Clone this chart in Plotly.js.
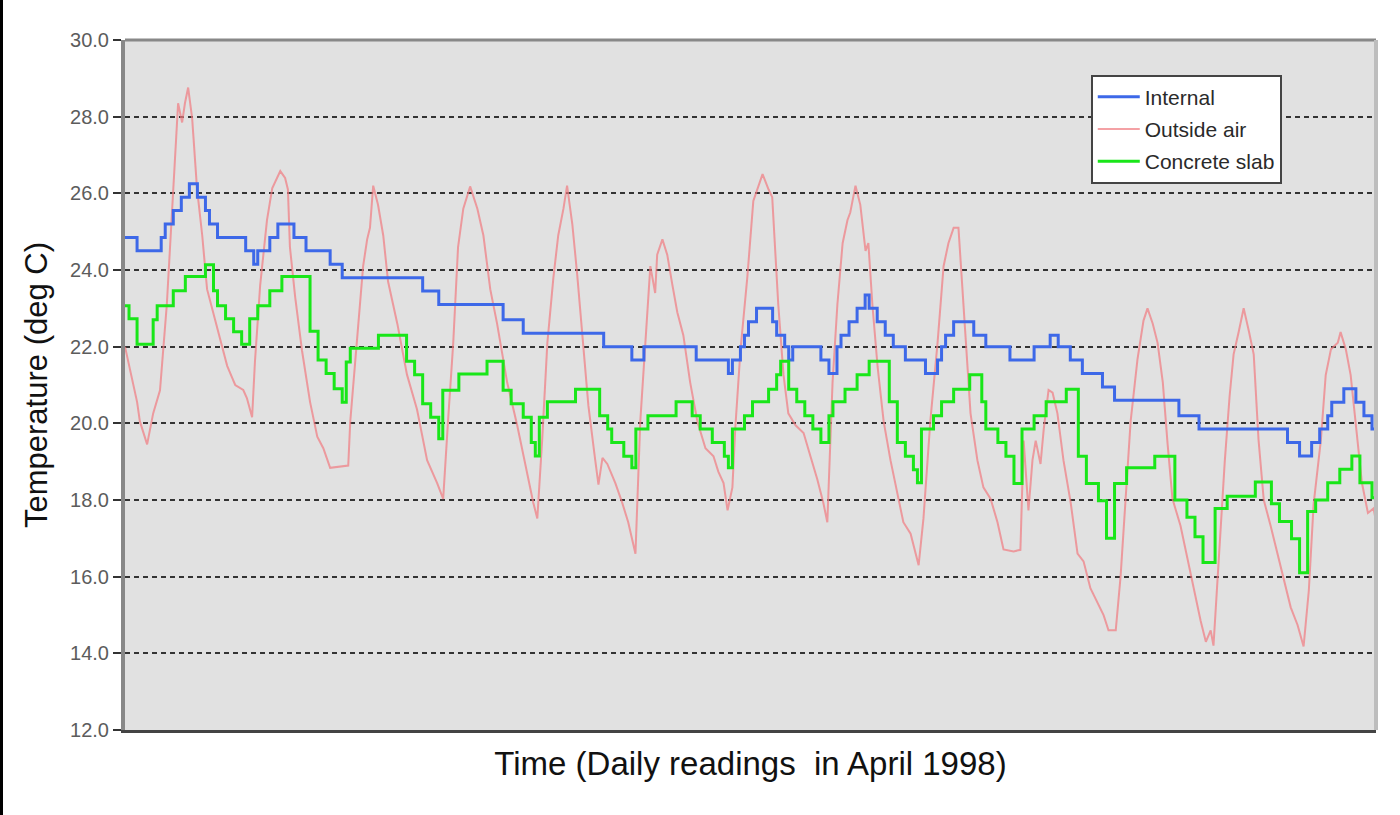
<!DOCTYPE html>
<html>
<head>
<meta charset="utf-8">
<script src="https://cdn.plot.ly/plotly-3.0.1.min.js"></script>
<style>
  html, body { margin: 0; padding: 0; background: #ffffff; }
  #wrap { position: relative; width: 1400px; height: 815px; overflow: hidden; }
  #chart { position: absolute; left: 0; top: 0; width: 1400px; height: 815px; }
  #edge { position: absolute; left: 0; top: 0; width: 3px; height: 815px; background: #000; }
</style>
</head>
<body>
<div id="wrap"><div id="chart"></div><div id="edge"></div></div>
<script>
// ---- Data (hours from start of record, temperature in deg C) ----
const hoursInternal = [0,3,9,10,12,14,16,18,20,21,23,30,32,33,36,38,42,45,51,54,74,78,94,99,119,126,129,142,150,151,153,154,155,157,161,162,164,165,166,173,175,177,178,180,182,184,185,187,189,191,194,199,202,203,204,206,211,214,220,226,230,232,235,238,243,246,262,267,289,292,295,297,299,300,303,306,308,310,311];
const internalTemp = [24.85,24.5,24.85,25.2,25.55,25.9,26.25,25.9,25.55,25.2,24.85,24.5,24.15,24.5,24.85,25.2,24.85,24.5,24.15,23.8,23.45,23.1,22.7,22.35,22.0,21.65,22.0,21.65,21.3,21.65,22.0,22.3,22.65,23.0,22.65,22.3,22.0,21.65,22.0,21.65,21.3,22.0,22.3,22.65,23.0,23.35,23.0,22.65,22.3,22.0,21.65,21.3,21.65,22.0,22.3,22.65,22.3,22.0,21.65,22.0,22.3,22.0,21.65,21.3,20.95,20.6,20.2,19.85,19.5,19.15,19.5,19.85,20.2,20.55,20.9,20.55,20.2,19.85,19.85];

const hoursOutside = [0,3.0,3.7,5.5,7.0,8.7,10.4,11.7,12.9,13.2,14.2,14.9,15.7,16.7,17.9,19.2,20.4,21.9,23.6,25.4,26.6,27.4,29.4,30.3,31.6,32.3,33.6,35.3,36.6,37.8,38.6,39.8,40.5,41.0,42.3,44.0,46.0,47.8,49.3,51.0,55.5,56.0,57.7,59.2,60.2,60.9,61.7,62.9,64.2,65.4,67.7,70.1,72.6,75.1,77.6,79.1,80.3,81.6,82.8,84.1,85.8,87.6,89.1,90.8,92.5,95.0,97.5,100.0,101.5,102.5,103.7,105.0,106.5,107.7,109.0,109.9,111.2,112.4,113.7,115.2,116.9,117.7,118.7,119.9,121.9,123.6,125.1,126.9,128.1,129.4,130.6,131.8,132.3,133.6,134.8,136.1,137.3,138.8,140.5,142.3,144.3,146.3,147.5,148.8,149.8,151.0,151.7,153.0,154.7,156.2,158.5,160.0,160.9,161.7,162.4,163.7,164.9,166.7,168.7,170.4,172.1,173.6,174.6,175.9,177.1,178.4,179.6,180.3,181.6,182.8,184.1,184.8,185.8,187.1,188.6,190.3,192.0,193.5,195.3,197.3,198.5,200.2,202.0,203.5,204.7,206.0,207.2,208.5,209.2,210.2,211.9,213.4,215.2,216.9,218.4,220.9,222.6,223.4,224.6,225.6,226.4,227.6,228.4,229.6,230.6,231.8,233.3,235.1,236.8,238.3,240.0,241.8,243.3,244.5,246.3,247.5,248.8,250.0,251.7,253.2,254.2,255.5,256.7,258.0,259.2,260.4,262.4,264.2,265.7,267.4,268.7,269.9,270.6,272.1,273.4,274.6,275.6,276.9,278.1,279.4,280.6,281.8,283.1,284.8,286.6,288.1,289.8,291.5,293.0,294.3,295.5,297.3,298.5,299.8,301.5,302.2,303.5,304.7,306.0,307.5,309.0,310.4,311.0];
const outsideTemp = [22.0,20.56,20.05,19.45,20.26,20.86,23.1,25.6,27.75,28.35,27.85,28.35,28.76,27.95,26.13,24.9,23.5,22.9,22.2,21.5,21.2,21.0,20.87,20.66,20.16,21.6,23.6,25.3,26.13,26.4,26.58,26.4,26.1,24.6,23.3,21.9,20.56,19.65,19.35,18.84,18.9,20.05,22.1,24.1,24.8,25.1,26.2,25.7,24.9,23.7,22.6,21.27,20.36,19.04,18.44,18.03,20.05,22.1,24.6,25.6,26.18,25.6,24.9,23.5,22.6,21.07,19.95,18.64,17.93,17.52,19.55,22.1,23.8,24.9,25.6,26.2,25.2,23.9,22.3,20.46,19.04,18.4,19.1,18.94,18.44,17.93,17.42,16.6,20.05,22.1,24.1,23.4,24.4,24.8,24.4,23.6,22.9,22.3,21.07,20.05,19.35,19.14,18.74,18.44,17.73,18.33,19.85,21.9,23.8,25.8,26.5,26.1,25.9,24.4,23.1,21.27,20.26,19.95,19.75,19.14,18.54,17.93,17.42,21.07,23.1,24.7,25.3,25.5,26.2,25.7,24.5,24.7,23.1,21.47,20.05,19.04,18.13,17.42,17.12,16.3,17.52,20.05,22.1,24.1,24.7,25.1,25.1,23.0,22.1,20.26,19.04,18.33,18.03,17.42,16.71,16.66,16.7,19.55,17.73,19.04,19.55,18.94,19.85,20.87,20.8,20.26,19.04,17.93,16.6,16.4,15.7,15.3,14.99,14.6,14.6,16.0,18.03,20.05,21.67,22.68,23.0,22.6,22.1,21.07,19.45,18.03,17.33,16.43,15.64,14.85,14.3,14.6,14.2,16.76,19.0,20.7,21.8,22.4,23.0,22.4,21.8,19.57,18.0,17.33,16.54,15.87,15.2,14.74,14.18,15.64,17.9,19.57,21.26,21.93,22.1,22.38,21.93,21.26,19.9,18.45,17.66,17.78,17.44];

const hoursSlab = [0,1,3,7,8,12,15,20,22,23,25,27,29,31,33,36,39,46,48,50,52,54,55,56,63,70,72,74,76,78,79,83,90,94,96,99,101,102,103,105,112,118,120,121,124,126,127,130,137,141,143,146,149,150,151,154,156,160,162,163,165,167,169,171,173,175,176,179,182,185,190,192,194,196,197,198,201,203,206,210,213,214,217,219,221,223,226,229,234,237,239,242,244,246,249,256,261,264,266,268,271,274,281,285,287,290,292,294,296,299,302,305,307,310,311];
const slabTemp = [23.07,22.73,22.06,22.7,23.07,23.46,23.83,24.14,23.46,23.07,22.73,22.39,22.06,22.73,23.07,23.46,23.83,22.4,21.65,21.3,20.9,20.55,21.6,21.96,22.3,21.62,21.27,20.51,20.16,19.6,20.86,21.29,21.62,20.86,20.51,20.16,19.5,19.15,20.16,20.56,20.89,20.2,19.85,19.5,19.14,18.84,19.85,20.2,20.56,20.2,19.85,19.5,19.14,18.84,19.85,20.2,20.56,20.89,21.27,21.62,20.89,20.56,20.2,19.85,19.5,20.2,20.56,20.89,21.27,21.62,20.56,19.5,19.14,18.79,18.45,19.85,20.2,20.56,20.89,21.27,20.56,19.85,19.5,19.14,18.43,19.85,20.2,20.56,20.89,19.14,18.43,17.98,17.0,18.43,18.84,19.14,18.0,17.55,17.04,16.37,17.78,18.1,18.47,17.9,17.44,16.99,16.1,17.7,18.0,18.45,18.8,19.15,18.45,18.06,18.06];

const seriesNames = ['Internal', 'Outside air', 'Concrete slab'];
const yTickValues = [12, 14, 16, 18, 20, 22, 24, 26, 28, 30];
const xTitleText = 'Time (Daily readings \u00a0in April 1998)';
const yTitleText = 'Temperature (deg C)';

const FONT = 'Arial, "Liberation Sans", sans-serif';

const traces = [
  { x: hoursOutside, y: outsideTemp, name: seriesNames[1], type: 'scatter', mode: 'lines',
    line: { color: 'rgba(240,125,130,0.72)', width: 2 }, legendrank: 2, legendgroup: 'b' },
  { x: hoursInternal, y: internalTemp, name: seriesNames[0], type: 'scatter', mode: 'lines',
    line: { color: '#3d68e8', width: 3, shape: 'hv' }, legendrank: 1, legendgroup: 'a' },
  { x: hoursSlab, y: slabTemp, name: seriesNames[2], type: 'scatter', mode: 'lines',
    line: { color: '#19e619', width: 3, shape: 'hv' }, legendrank: 3, legendgroup: 'c' }
];

const layout = {
  width: 1400, height: 815,
  margin: { l: 125, r: 24, t: 40, b: 85 },
  paper_bgcolor: '#ffffff',
  plot_bgcolor: '#e1e1e1',
  font: { family: FONT, color: '#333' },
  showlegend: true,
  legend: {
    x: 0.772, y: 0.95, xanchor: 'left', yanchor: 'top',
    bgcolor: '#ffffff', bordercolor: '#444', borderwidth: 2,
    font: { family: FONT, size: 21, color: '#2a2a2a' },
    traceorder: 'grouped', tracegroupgap: 2, itemwidth: 42
  },
  xaxis: {
    range: [0, 311], showgrid: false, zeroline: false,
    showticklabels: false, ticks: '',
    showline: true, linecolor: '#444', linewidth: 3,
    title: { text: xTitleText, font: { family: FONT, size: 33, color: '#111' }, standoff: 20 }
  },
  yaxis: {
    range: [12, 30], tickvals: yTickValues, tickformat: '.1f',
    showgrid: true, gridcolor: '#333', gridwidth: 2, griddash: '5px,4px',
    zeroline: false,
    ticks: 'outside', ticklen: 8, tickwidth: 2, tickcolor: '#333',
    showline: true, linecolor: '#888', linewidth: 4,
    tickfont: { family: FONT, size: 20, color: '#5c5c5c' },
    title: { text: yTitleText, font: { family: FONT, size: 31, color: '#111' }, standoff: 14 }
  },
  shapes: [
    { type: 'line', xref: 'paper', yref: 'paper', x0: 0, x1: 1, y0: 1, y1: 1,
      line: { color: '#888', width: 3 } },
    { type: 'line', xref: 'paper', yref: 'paper', x0: 1, x1: 1, y0: 0, y1: 1,
      line: { color: '#bdbdbd', width: 4 } }
  ]
};

Plotly.newPlot('chart', traces, layout, { displayModeBar: false, staticPlot: true });
</script>
</body>
</html>
